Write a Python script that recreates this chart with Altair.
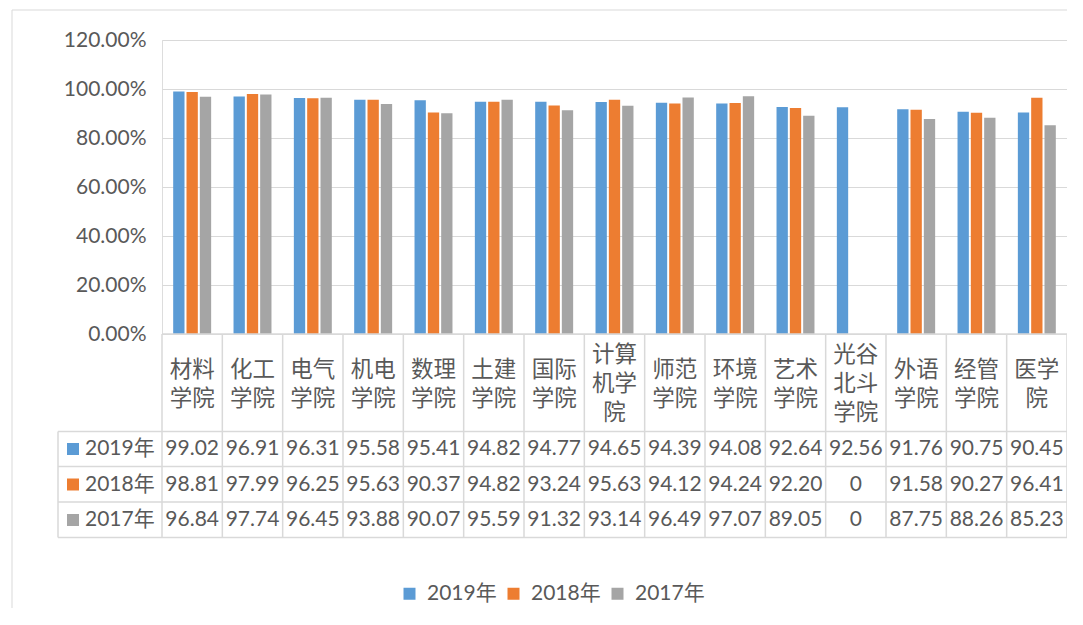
import altair as alt
import pandas as pd

# ---------------- data ----------------
colleges = ["材料学院", "化工学院", "电气学院", "机电学院", "数理学院", "土建学院",
            "国际学院", "计算机学院", "师范学院", "环境学院", "艺术学院", "光谷北斗学院",
            "外语学院", "经管学院", "医学院"]
years = ["2019年", "2018年", "2017年"]
v2019 = [99.02, 96.91, 96.31, 95.58, 95.41, 94.82, 94.77, 94.65, 94.39, 94.08, 92.64, 92.56, 91.76, 90.75, 90.45]
v2018 = [98.81, 97.99, 96.25, 95.63, 90.37, 94.82, 93.24, 95.63, 94.12, 94.24, 92.20, 0, 91.58, 90.27, 96.41]
v2017 = [96.84, 97.74, 96.45, 93.88, 90.07, 95.59, 91.32, 93.14, 96.49, 97.07, 89.05, 0, 87.75, 88.26, 85.23]
y_ticks = [0, 0.2, 0.4, 0.6, 0.8, 1.0, 1.2]

# ---------------- styles / layout ----------------
colors = ["#5B9BD5", "#ED7D31", "#A5A5A5"]
FONT = "Lato, 'Noto Sans CJK SC'"
CJK = "Noto Sans CJK SC"
TXT = "#595959"
GRID = "#D9D9D9"
W, H = 905, 294
PAD_L, PAD_T = 154, 32
SVG_H = 600
HDR_L = -104                       # left edge of the row-header column
ROW_LINES = [391.5, 426.5, 462, 497.5]
ROW_CENTERS = [409, 444.5, 480]
CAT_Y = {2: 329.5, 3: 315}
CAT_LH = 29

series = [v2019, v2018, v2017]
bars_df = pd.DataFrame([
    {"college": c, "year": y, "value": vals[i] / 100.0}
    for y, vals in zip(years, series) for i, c in enumerate(colleges)
])
table_df = pd.DataFrame([
    {"college": c, "year": y, "label": ("0" if vals[i] == 0 else f"{vals[i]:.2f}")}
    for y, vals in zip(years, series) for i, c in enumerate(colleges)
])
wrapped = [[c[k:k + 2] for k in range(0, len(c), 2)] for c in colleges]
cat_df = pd.DataFrame({
    "college": colleges,
    "wrapped": ["\n".join(w) for w in wrapped],
    "nlines": [len(w) for w in wrapped],
})
one = pd.DataFrame({"k": [0]})

x_scale = alt.Scale(domain=colleges, paddingInner=0, paddingOuter=0)
x_enc = alt.X("college:N", scale=x_scale, axis=None, sort=None)

border = alt.Chart(one).mark_rect(fillOpacity=0, stroke=GRID, strokeWidth=1).encode(
    x=alt.value(-150), x2=alt.value(W + 300), y=alt.value(-30), y2=alt.value(SVG_H + 100)
)

bars = alt.Chart(bars_df).mark_bar().encode(
    x=x_enc,
    xOffset=alt.XOffset("year:N", sort=years,
                        scale=alt.Scale(domain=years, paddingInner=0.15, paddingOuter=0.84)),
    y=alt.Y("value:Q",
            scale=alt.Scale(domain=[0, 1.2], nice=False, zero=True),
            axis=alt.Axis(values=y_ticks, format=".2%", title=None, domain=False, ticks=False,
                          grid=True, gridColor=GRID, gridWidth=1, labelFontSize=21,
                          labelColor=TXT, labelFont=FONT, labelPadding=16)),
    color=alt.Color("year:N",
                    scale=alt.Scale(domain=years, range=colors),
                    legend=alt.Legend(title=None, orient="none", legendX=237, legendY=543,
                                      direction="horizontal", symbolType="square",
                                      symbolSize=144, symbolStrokeWidth=0, labelFontSize=21,
                                      labelColor=TXT, labelFont=FONT, columnPadding=6,
                                      labelOffset=7, padding=0)),
)

# table lines
vlines = alt.Chart(cat_df).mark_rule(color=GRID, strokeWidth=1.5).encode(
    x=alt.X("college:N", scale=x_scale, axis=None, sort=None, bandPosition=0),
    y=alt.value(H), y2=alt.value(ROW_LINES[-1]),
)
right_line = alt.Chart(one).mark_rule(color=GRID, strokeWidth=1.5).encode(
    x=alt.value(W), y=alt.value(H), y2=alt.value(ROW_LINES[-1]))
left_line = alt.Chart(one).mark_rule(color=GRID, strokeWidth=1.5).encode(
    x=alt.value(HDR_L), y=alt.value(ROW_LINES[0]), y2=alt.value(ROW_LINES[-1]))
hlines = [
    alt.Chart(one).mark_rule(color=GRID, strokeWidth=1.5).encode(
        x=alt.value(HDR_L), x2=alt.value(W), y=alt.value(yy))
    for yy in ROW_LINES
]
top_line = alt.Chart(one).mark_rule(color=GRID, strokeWidth=1.5).encode(
    x=alt.value(0), x2=alt.value(W), y=alt.value(H))

cat_layers = []
for n, ypos in CAT_Y.items():
    cat_layers.append(
        alt.Chart(cat_df[cat_df["nlines"] == n]).mark_text(
            lineBreak="\n", fontSize=22.5, lineHeight=CAT_LH, baseline="middle", align="center",
            font=CJK, color=TXT
        ).encode(x=x_enc, y=alt.value(ypos), text="wrapped:N")
    )

value_layers = []
for i, y in enumerate(years):
    d = table_df[table_df["year"] == y]
    value_layers.append(
        alt.Chart(d).mark_text(fontSize=21, baseline="middle", align="center",
                               font=FONT, color=TXT).encode(
            x=x_enc, y=alt.value(ROW_CENTERS[i]), text="label:N")
    )
    value_layers.append(
        alt.Chart(one).mark_point(shape="square", filled=True, size=144, opacity=1,
                                  color=colors[i]).encode(
            x=alt.value(HDR_L + 15), y=alt.value(ROW_CENTERS[i]))
    )
    value_layers.append(
        alt.Chart(pd.DataFrame({"t": [y]})).mark_text(
            fontSize=21, baseline="middle", align="left", font=FONT, color=TXT).encode(
            x=alt.value(HDR_L + 27), y=alt.value(ROW_CENTERS[i]), text="t:N")
    )

chart = alt.layer(
    border, bars, top_line, *hlines, vlines, right_line, left_line, *cat_layers, *value_layers
).properties(
    width=W, height=H,
    autosize=alt.AutoSizeParams(type="none"),
    padding={"left": PAD_L, "top": PAD_T, "right": 0, "bottom": SVG_H - PAD_T - H},
).configure_view(stroke="transparent").configure(background="white")

chart.save("out.html", embed_options={"renderer": "svg", "actions": False})
